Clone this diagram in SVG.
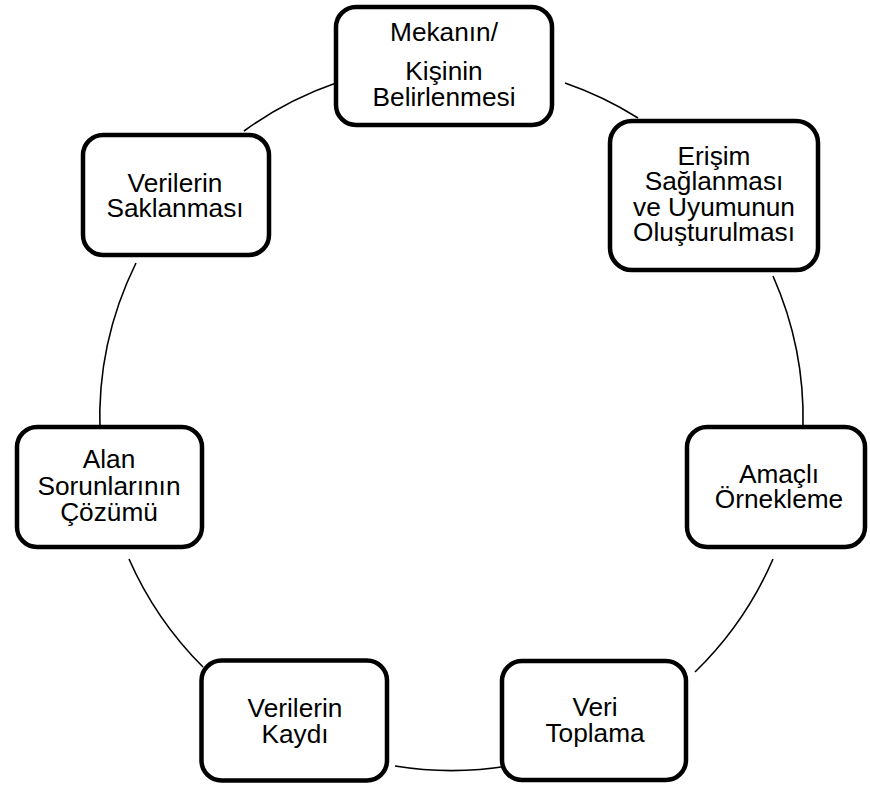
<svg xmlns="http://www.w3.org/2000/svg" width="870" height="785" viewBox="0 0 870 785">
<style>
.box{fill:#fff;stroke:#000;stroke-width:4.5}
.lbl{font-family:"Liberation Sans",Arial,sans-serif;font-size:25px;fill:#000;text-anchor:middle}
.arc{fill:none;stroke:#000;stroke-width:1.6}
</style>
<rect width="870" height="785" fill="#fff"/>
<g id="connectors">
<path class="arc" d="M244,131 A352,352 0 0 1 336,83"/>
<path class="arc" d="M565,83 A352,352 0 0 1 638,118"/>
<path class="arc" d="M773,276 A352,352 0 0 1 803,427"/>
<path class="arc" d="M773,559 A352,352 0 0 1 695,672"/>
<path class="arc" d="M508,766 A352,352 0 0 1 395,766"/>
<path class="arc" d="M203,667 A352,352 0 0 1 129,559"/>
<path class="arc" d="M100,432 A352,352 0 0 1 136,263"/>
</g>
<g id="n1">
<rect class="box" x="336" y="7" width="216" height="118" rx="20"/>
<g transform="translate(444,0) scale(1.05,1)">
<text class="lbl" x="0" y="41">Mekanın/</text>
<text class="lbl" x="0" y="80">Kişinin</text>
<text class="lbl" x="0" y="106">Belirlenmesi</text>
</g>
</g>
<g id="n2">
<rect class="box" x="610" y="121" width="208" height="149" rx="22"/>
<g transform="translate(714,0) scale(1.05,1)">
<text class="lbl" x="0" y="165">Erişim</text>
<text class="lbl" x="0" y="190">Sağlanması</text>
<text class="lbl" x="0" y="216">ve Uyumunun</text>
<text class="lbl" x="0" y="241">Oluşturulması</text>
</g>
</g>
<g id="n3">
<rect class="box" x="687" y="427" width="178" height="120" rx="20"/>
<g transform="translate(779,0) scale(1.05,1)">
<text class="lbl" x="0" y="483">Amaçlı</text>
<text class="lbl" x="0" y="508">Örnekleme</text>
</g>
</g>
<g id="n4">
<rect class="box" x="502" y="661" width="184" height="119" rx="20"/>
<g transform="translate(595,0) scale(1.05,1)">
<text class="lbl" x="0" y="716">Veri</text>
<text class="lbl" x="0" y="742">Toplama</text>
</g>
</g>
<g id="n5">
<rect class="box" x="201.5" y="660.5" width="185.5" height="120" rx="20"/>
<g transform="translate(295,0) scale(1.05,1)">
<text class="lbl" x="0" y="717">Verilerin</text>
<text class="lbl" x="0" y="743">Kaydı</text>
</g>
</g>
<g id="n6">
<rect class="box" x="17" y="427" width="185" height="120" rx="20"/>
<g transform="translate(109,0) scale(1.05,1)">
<text class="lbl" x="0" y="468">Alan</text>
<text class="lbl" x="0" y="495">Sorunlarının</text>
<text class="lbl" x="0" y="521">Çözümü</text>
</g>
</g>
<g id="n7">
<rect class="box" x="83" y="135" width="186" height="120" rx="20"/>
<g transform="translate(175,0) scale(1.05,1)">
<text class="lbl" x="0" y="192">Verilerin</text>
<text class="lbl" x="0" y="217">Saklanması</text>
</g>
</g>
</svg>
